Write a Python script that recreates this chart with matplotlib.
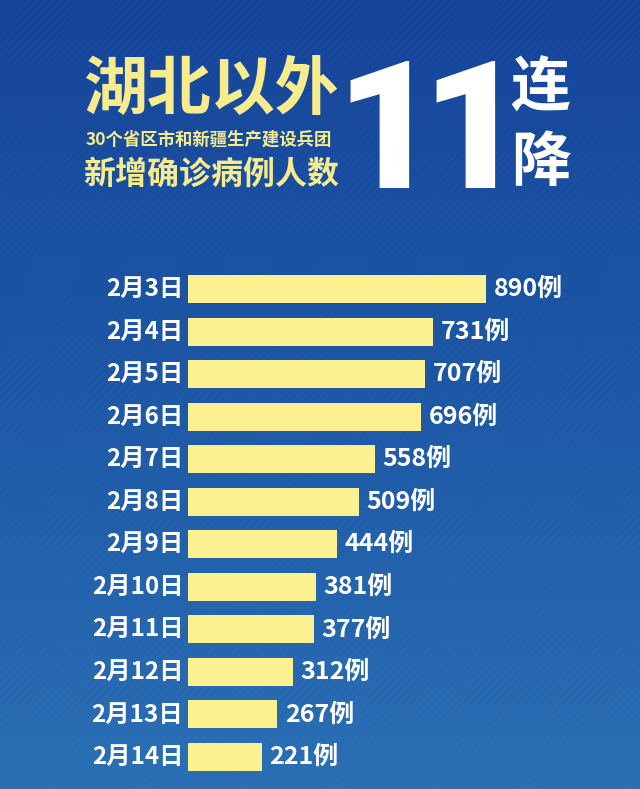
import numpy as np
import matplotlib
matplotlib.use("Agg")
import matplotlib.pyplot as plt
from matplotlib.colors import LinearSegmentedColormap

plt.rcParams["font.family"] = ["Noto Sans CJK SC", "DejaVu Sans"]

dates = ["2月3日", "2月4日", "2月5日", "2月6日", "2月7日", "2月8日",
         "2月9日", "2月10日", "2月11日", "2月12日", "2月13日", "2月14日"]
cases = [890, 731, 707, 696, 558, 509, 444, 381, 377, 312, 267, 221]

BAR = "#fbf191"
TITLE_YELLOW = "#f6ec8e"

fig = plt.figure(figsize=(6.4, 7.89), dpi=100)

# background gradient, dark blue at top to lighter blue at bottom
bg = fig.add_axes([0, 0, 1, 1])
cmap = LinearSegmentedColormap.from_list("bg", ["#15449a", "#1d58a6", "#2a6fb5"])
grad = np.linspace(0, 1, 256).reshape(-1, 1)
bg.imshow(grad, aspect="auto", cmap=cmap, extent=[0, 1, 0, 1], origin="upper")
# faint diagonal texture
for k in np.arange(-1.5, 1.0, 0.012):
    bg.plot([k, k + 1.2], [0, 1], color="white", alpha=0.025, linewidth=0.8)
bg.set_xlim(0, 1); bg.set_ylim(0, 1); bg.axis("off")

# title block
fig.text(0.13, 0.885, "湖北以外", color=TITLE_YELLOW, fontsize=46, fontweight="heavy",
         ha="left", va="center")
fig.text(0.133, 0.823, "30个省区市和新疆生产建设兵团", color=TITLE_YELLOW, fontsize=12.5,
         fontweight="heavy", ha="left", va="center")
fig.text(0.13, 0.779, "新增确诊病例人数", color=TITLE_YELLOW, fontsize=23,
         fontweight="heavy", ha="left", va="center")
fig.text(0.605, 0.7617, "1", color="white", fontsize=129, fontweight="heavy",
         family="Roboto", ha="center", va="baseline")
fig.text(0.74, 0.7617, "1", color="white", fontsize=129, fontweight="heavy",
         family="Roboto", ha="center", va="baseline")
fig.text(0.798, 0.886, "连", color="white", fontsize=43, fontweight="heavy",
         ha="left", va="center")
fig.text(0.798, 0.792, "降", color="white", fontsize=43, fontweight="heavy",
         ha="left", va="center")

# bar chart
ax = fig.add_axes([0.29375, 0.0136, 0.70625, 0.647])
ax.patch.set_alpha(0)
y = np.arange(len(dates))
ax.barh(y, cases, height=0.66, color=BAR)
ax.set_xlim(0, 1349)
ax.set_ylim(len(dates) - 0.5, -0.5)
ax.axis("off")
for yi, d, v in zip(y, dates, cases):
    ax.text(-14, yi, d, color="white", fontsize=17.5, fontweight="heavy",
            ha="right", va="center")
    ax.text(v + 22, yi, f"{v}例", color="white", fontsize=18, fontweight="heavy",
            ha="left", va="center")

fig.savefig("out.png", dpi=100)
